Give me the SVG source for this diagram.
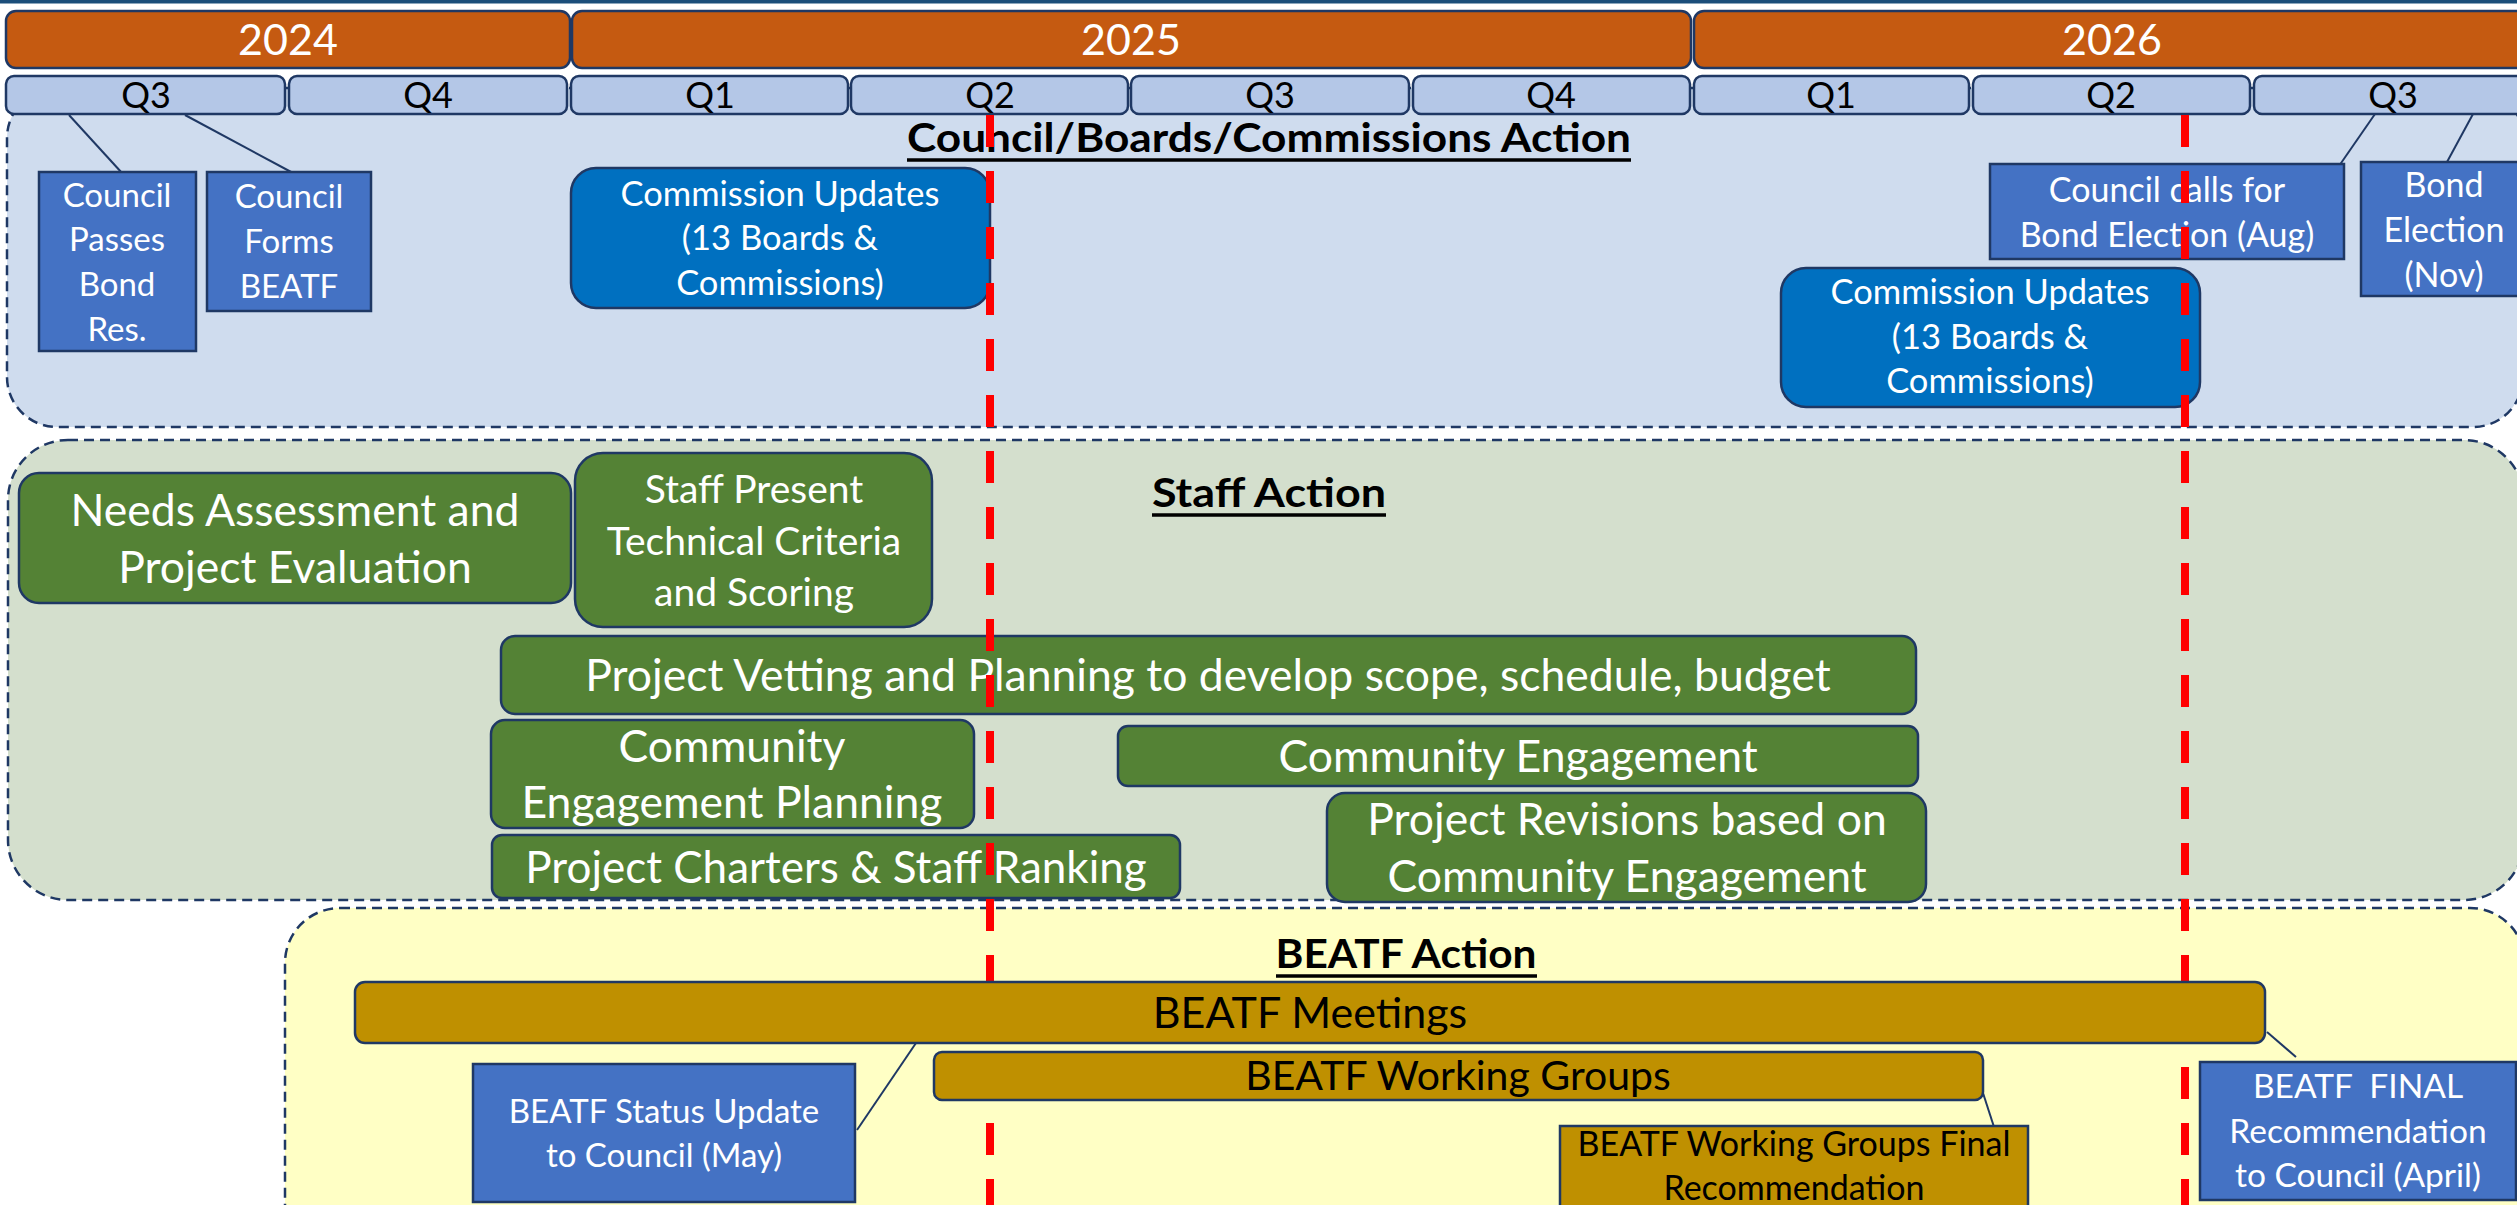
<svg xmlns="http://www.w3.org/2000/svg" width="2517" height="1205" viewBox="0 0 2517 1205">
<defs>
<style>
text{font-family:Lato,"Liberation Sans",sans-serif;text-anchor:middle}
.yr{fill:#C55A11;stroke:#1F3864;stroke-width:2.5}
.qt{fill:#B4C7E7;stroke:#1F3864;stroke-width:2.5}
.sec{stroke:#1F3864;stroke-width:2.5;stroke-dasharray:10 6}
.ev{fill:#4472C4;stroke:#1F3864;stroke-width:2.5}
.cu{fill:#0070C0;stroke:#1F3864;stroke-width:2.5}
.st{fill:#548235;stroke:#1F3864;stroke-width:2.5}
.bt{fill:#BF9000;stroke:#1F3864;stroke-width:2.5}
.conn{stroke:#1F3864;stroke-width:2;fill:none}
.red{stroke:#FF0000;stroke-width:8;stroke-dasharray:32 24;fill:none}
.w{fill:#FFFFFF}
.k{fill:#000000}
.yt{fill:#FFFFFF;font-size:43px}
.qtt{fill:#000000;font-size:36px}
.hd{fill:#000000;font-size:41px;font-weight:bold}
.ul{stroke:#000000;stroke-width:3.5}
</style>
</defs>
<rect x="0" y="0" width="2517" height="1205" fill="#FFFFFF"/>
<rect x="0" y="0" width="2517" height="3.5" fill="#1B4E7A"/>

<g id="sections">
<rect id="sec-council" class="sec" x="7" y="88" width="2516" height="339" rx="50" fill="#CFDCEE"/>
<rect id="sec-staff" class="sec" x="8" y="440" width="2516" height="460" rx="60" fill="#D4DFCD"/>
<rect id="sec-beatf" class="sec" x="285" y="908" width="2240" height="400" rx="55" fill="#FFFFC5"/>
</g>

<g id="timeline">
<g id="y2024"><rect class="yr" x="6" y="11" width="564" height="57" rx="10"/><text class="yt" x="288" y="55">2024</text></g>
<g id="y2025"><rect class="yr" x="572" y="11" width="1119" height="57" rx="10"/><text class="yt" x="1131" y="55">2025</text></g>
<g id="y2026"><rect class="yr" x="1694" y="11" width="840" height="57" rx="10"/><text class="yt" x="2112" y="55">2026</text></g>
<g id="q2024-3"><rect class="qt" x="6" y="76" width="279" height="38" rx="8"/><text class="qtt" x="146" y="108">Q3</text></g>
<g id="q2024-4"><rect class="qt" x="289" y="76" width="278" height="38" rx="8"/><text class="qtt" x="428" y="108">Q4</text></g>
<g id="q2025-1"><rect class="qt" x="571" y="76" width="277" height="38" rx="8"/><text class="qtt" x="710" y="108">Q1</text></g>
<g id="q2025-2"><rect class="qt" x="851" y="76" width="277" height="38" rx="8"/><text class="qtt" x="990" y="108">Q2</text></g>
<g id="q2025-3"><rect class="qt" x="1131" y="76" width="278" height="38" rx="8"/><text class="qtt" x="1270" y="108">Q3</text></g>
<g id="q2025-4"><rect class="qt" x="1413" y="76" width="277" height="38" rx="8"/><text class="qtt" x="1551" y="108">Q4</text></g>
<g id="q2026-1"><rect class="qt" x="1694" y="76" width="275" height="38" rx="8"/><text class="qtt" x="1831" y="108">Q1</text></g>
<g id="q2026-2"><rect class="qt" x="1973" y="76" width="277" height="38" rx="8"/><text class="qtt" x="2111" y="108">Q2</text></g>
<g id="q2026-3"><rect class="qt" x="2254" y="76" width="280" height="38" rx="8"/><text class="qtt" x="2393" y="108">Q3</text></g>
</g>

<g id="connectors">
<line class="conn" x1="69" y1="115" x2="122" y2="173"/>
<line class="conn" x1="185" y1="115" x2="293" y2="173"/>
<line class="conn" x1="2375" y1="114" x2="2339" y2="166"/>
<line class="conn" x1="2473" y1="114" x2="2447" y2="162"/>
<line class="conn" x1="916" y1="1043" x2="857" y2="1130"/>
<line class="conn" x1="1983" y1="1093" x2="1994" y2="1127"/>
<line class="conn" x1="2267" y1="1032" x2="2296" y2="1057"/>
</g>

<g id="headings">
<text class="hd" x="1269" y="152" textLength="724" lengthAdjust="spacingAndGlyphs">Council/Boards/Commissions Action</text>
<line class="ul" x1="907" y1="160" x2="1631" y2="160"/>
<text class="hd" x="1269" y="507" textLength="234" lengthAdjust="spacingAndGlyphs">Staff Action</text>
<line class="ul" x1="1152" y1="515" x2="1386" y2="515"/>
<text class="hd" x="1406" y="968" textLength="261" lengthAdjust="spacingAndGlyphs">BEATF Action</text>
<line class="ul" x1="1276" y1="976" x2="1537" y2="976"/>
</g>

<g id="council-passes">
<rect class="ev" x="39" y="172" width="157" height="179"/>
<g class="w" font-size="33"><text x="117" y="207">Council</text><text x="117" y="251">Passes</text><text x="117" y="296">Bond</text><text x="117" y="341">Res.</text></g>
</g>
<g id="council-forms">
<rect class="ev" x="207" y="172" width="164" height="139"/>
<g class="w" font-size="33"><text x="289" y="208">Council</text><text x="289" y="253">Forms</text><text x="289" y="298">BEATF</text></g>
</g>
<g id="commission-2025">
<rect class="cu" x="571" y="168" width="419" height="140" rx="25"/>
<g class="w" font-size="34.5"><text x="780" y="206">Commission Updates</text><text x="780" y="250">(13 Boards &amp;</text><text x="780" y="295">Commissions)</text></g>
</g>
<g id="council-calls">
<rect class="ev" x="1990" y="164" width="354" height="95"/>
<g class="w" font-size="34"><text x="2167" y="202">Council calls for</text><text x="2167" y="247">Bond Election (Aug)</text></g>
</g>
<g id="bond-election">
<rect class="ev" x="2361" y="162" width="175" height="134"/>
<g class="w" font-size="34"><text x="2444" y="197">Bond</text><text x="2444" y="242">Election</text><text x="2444" y="287">(Nov)</text></g>
</g>
<g id="commission-2026">
<rect class="cu" x="1781" y="268" width="419" height="139" rx="25"/>
<g class="w" font-size="34.5"><text x="1990" y="304">Commission Updates</text><text x="1990" y="349">(13 Boards &amp;</text><text x="1990" y="393">Commissions)</text></g>
</g>

<g id="needs-assessment">
<rect class="st" x="19" y="473" width="552" height="130" rx="20"/>
<g class="w" font-size="44.5"><text x="295" y="526">Needs Assessment and</text><text x="295" y="583">Project Evaluation</text></g>
</g>
<g id="staff-present">
<rect class="st" x="575" y="453" width="357" height="174" rx="28"/>
<g class="w" font-size="39"><text x="754" y="503">Staff Present</text><text x="754" y="555">Technical Criteria</text><text x="754" y="606">and Scoring</text></g>
</g>
<g id="project-vetting">
<rect class="st" x="501" y="636" width="1415" height="78" rx="14"/>
<text class="w" font-size="44.5" x="1208" y="691">Project Vetting and Planning to develop scope, schedule, budget</text>
</g>
<g id="ce-planning">
<rect class="st" x="491" y="720" width="483" height="108" rx="14"/>
<g class="w" font-size="44.5"><text x="732" y="762">Community</text><text x="732" y="818">Engagement Planning</text></g>
</g>
<g id="community-engagement">
<rect class="st" x="1118" y="726" width="800" height="60" rx="10"/>
<text class="w" font-size="44.5" x="1518" y="772">Community Engagement</text>
</g>
<g id="project-charters">
<rect class="st" x="492" y="835" width="688" height="63" rx="10"/>
<text class="w" font-size="44" x="836" y="883">Project Charters &amp; Staff Ranking</text>
</g>
<g id="project-revisions">
<rect class="st" x="1327" y="793" width="599" height="109" rx="18"/>
<g class="w" font-size="44.5"><text x="1627" y="835">Project Revisions based on</text><text x="1627" y="892">Community Engagement</text></g>
</g>

<g id="red-lines">
<line class="red" x1="990" y1="115" x2="990" y2="1205"/>
<line class="red" x1="2185" y1="115" x2="2185" y2="1205"/>
</g>

<g id="beatf-meetings">
<rect class="bt" x="355" y="982" width="1910" height="61" rx="10"/>
<text class="k" font-size="43" x="1310" y="1028">BEATF Meetings</text>
</g>
<g id="beatf-working-groups">
<rect class="bt" x="934" y="1052" width="1049" height="48" rx="8"/>
<text class="k" font-size="41" x="1458" y="1090">BEATF Working Groups</text>
</g>
<g id="beatf-status">
<rect class="ev" x="473" y="1064" width="382" height="138"/>
<g class="w" font-size="33"><text x="664" y="1123">BEATF Status Update</text><text x="664" y="1167">to Council (May)</text></g>
</g>
<g id="beatf-wg-final">
<rect class="bt" x="1560" y="1126" width="468" height="100"/>
<g class="k" font-size="34"><text x="1794" y="1156">BEATF Working Groups Final</text><text x="1794" y="1200">Recommendation</text></g>
</g>
<g id="beatf-final">
<rect class="ev" x="2200" y="1062" width="316" height="138"/>
<g class="w" font-size="33.5"><text x="2358" y="1098" xml:space="preserve">BEATF  FINAL</text><text x="2358" y="1143">Recommendation</text><text x="2358" y="1187">to Council (April)</text></g>
</g>
</svg>
